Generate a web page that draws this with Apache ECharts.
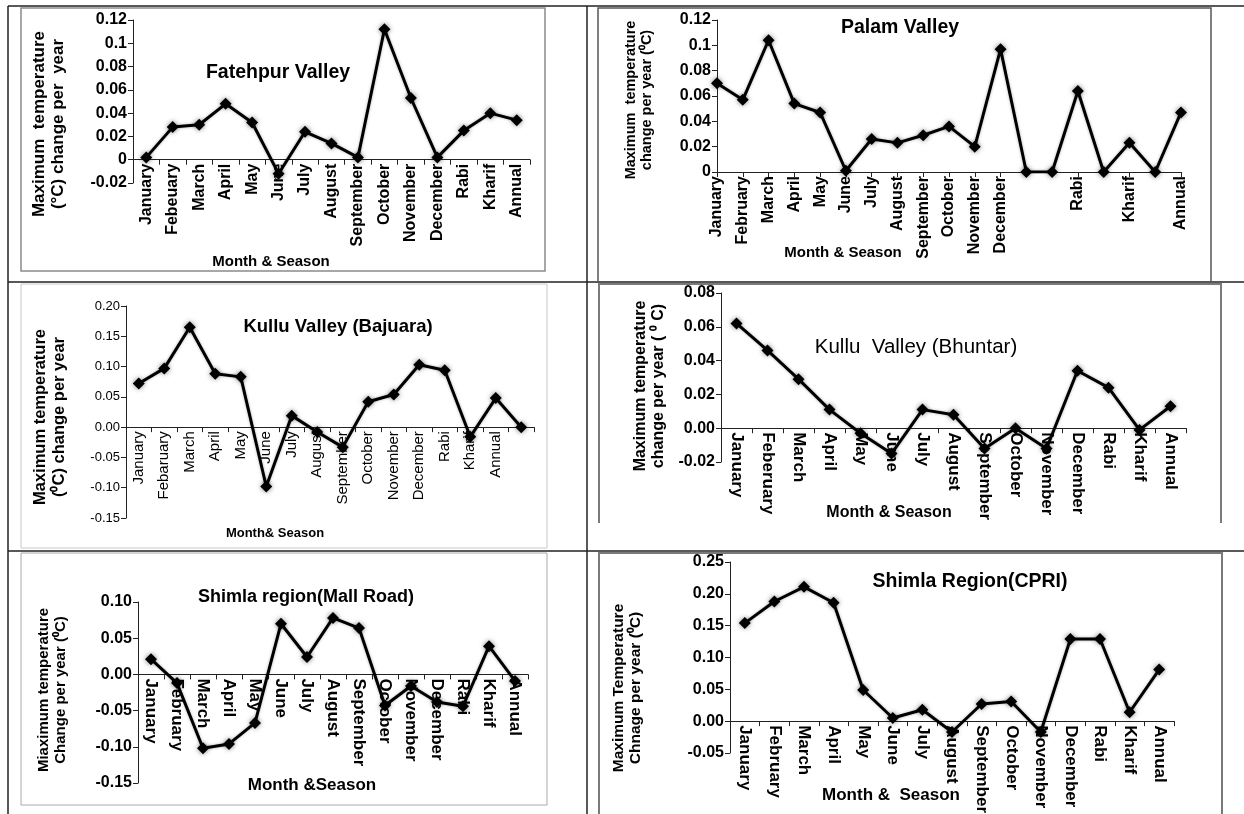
<!DOCTYPE html>
<html>
<head>
<meta charset="utf-8">
<script src="https://cdn.jsdelivr.net/npm/echarts@6/dist/echarts.min.js"></script>
<style>
  html, body { margin: 0; padding: 0; background: #fff; }
  #chart { width: 1244px; height: 814px; }
</style>
</head>
<body>
<div id="chart"></div>
<script>
// ---- data ----
const fatehpurCats = ['January', 'Febeuary', 'March', 'April', 'May', 'June', 'July', 'August', 'September', 'October', 'November', 'December', 'Rabi', 'Kharif', 'Annual'];
const fatehpurVals = [0.002, 0.028, 0.030, 0.048, 0.032, -0.012, 0.024, 0.014, 0.002, 0.112, 0.053, 0.002, 0.025, 0.040, 0.034];
const fatehpurTicks = [-0.02, 0.12, 0.02];

const palamCats = ['January', 'February', 'March', 'April', 'May', 'June', 'July', 'August', 'September', 'October', 'November', 'December', '', '', 'Rabi', '', 'Kharif', '', 'Annual'];
const palamVals = [0.070, 0.057, 0.104, 0.054, 0.047, 0.001, 0.026, 0.023, 0.029, 0.036, 0.020, 0.097, 0, 0, 0.064, 0, 0.023, 0, 0.047];
const palamTicks = [0, 0.12, 0.02];

const bajuaraCats = ['January', 'Febaruary', 'March', 'April', 'May', 'June', 'July', 'August', 'September', 'October', 'November', 'December', 'Rabi', 'Kharif', 'Annual', ''];
const bajuaraVals = [0.072, 0.097, 0.165, 0.088, 0.083, -0.098, 0.019, -0.008, -0.033, 0.042, 0.054, 0.103, 0.094, -0.016, 0.048, 0.000];
const bajuaraTicks = [-0.15, 0.20, 0.05];

const bhuntarCats = ['January', 'Feberuary', 'March', 'April', 'May', 'June', 'July', 'August', 'September', 'October', 'November', 'December', 'Rabi', 'Kharif', 'Annual'];
const bhuntarVals = [0.062, 0.046, 0.029, 0.011, -0.003, -0.015, 0.011, 0.008, -0.012, 0.000, -0.012, 0.034, 0.024, -0.001, 0.013];
const bhuntarTicks = [-0.02, 0.08, 0.02];

const mallCats = ['January', 'February', 'March', 'April', 'May', 'June', 'July', 'August', 'September', 'October', 'November', 'December', 'Rabi', 'Kharif', 'Annual'];
const mallVals = [0.021, -0.012, -0.102, -0.096, -0.067, 0.070, 0.024, 0.078, 0.064, -0.043, -0.016, -0.038, -0.044, 0.039, -0.009];
const mallTicks = [-0.15, 0.10, 0.05];

const cpriCats = ['January', 'February', 'March', 'April', 'May', 'June', 'July', 'August', 'September', 'October', 'November', 'December', 'Rabi', 'Kharif', 'Annual'];
const cpriVals = [0.154, 0.188, 0.211, 0.186, 0.049, 0.005, 0.018, -0.017, 0.027, 0.031, -0.017, 0.129, 0.129, 0.014, 0.081];
const cpriTicks = [-0.05, 0.25, 0.05];

// ---- layout ----
const FONT = '"Liberation Sans", Arial, sans-serif';
const NARROW = '"Liberation Sans Narrow", "Liberation Sans", Arial, sans-serif';

const panels = [
  {
    cats: fatehpurCats, vals: fatehpurVals, ticks: fatehpurTicks, decimals: null,
    grid: { left: 133, top: 20, width: 397, height: 163 }, gap: true, rotate: 90,
    xFont: [16, 'bold'], yFont: [16, 'bold'],
    title: ['Fatehpur Valley', 278, 73, 19.5, 'bold', FONT],
    yName: ['Maximum  temperature\n(°C) change per  year', 49, 124, 17],
    xName: ['Month & Season', 271, 262, 15]
  },
  {
    cats: palamCats, vals: palamVals, ticks: palamTicks, decimals: null,
    grid: { left: 717, top: 20, width: 464, height: 152 }, gap: false, rotate: 90,
    xFont: [16, 'bold'], yFont: [16, 'bold'],
    title: ['Palam Valley', 900, 28, 19.5, 'bold', FONT],
    yName: ['Maximum  temperature\nchange per year (⁰C)', 639, 100, 14.5],
    xName: ['Month & Season', 843, 253, 15]
  },
  {
    cats: bajuaraCats, vals: bajuaraVals, ticks: bajuaraTicks, decimals: 2,
    grid: { left: 126, top: 306, width: 408, height: 212 }, gap: true, rotate: 90,
    xFont: [15, 'normal'], yFont: [13, 'normal'],
    title: ['Kullu Valley (Bajuara)', 338, 327, 18.5, 'bold', FONT],
    yName: ['Maximum temperature\n(⁰C) change per year', 50, 417, 16.5],
    xName: ['Month& Season', 275, 533, 13]
  },
  {
    cats: bhuntarCats, vals: bhuntarVals, ticks: bhuntarTicks, decimals: 2,
    grid: { left: 721, top: 293, width: 465, height: 169 }, gap: true, rotate: -90,
    xFont: [17, 'bold'], yFont: [16, 'bold'],
    title: ['Kullu  Valley (Bhuntar)', 916, 347, 20.5, 'normal', NARROW],
    yName: ['Maximum temperature\nchange per year ( ⁰ C)', 650, 386, 16],
    xName: ['Month & Season', 889, 513, 16]
  },
  {
    cats: mallCats, vals: mallVals, ticks: mallTicks, decimals: 2,
    grid: { left: 138, top: 602, width: 390, height: 181 }, gap: true, rotate: -90,
    xFont: [17, 'bold'], yFont: [16, 'bold'],
    title: ['Shimla region(Mall Road)', 306, 597, 18, 'bold', FONT],
    yName: ['Miaximum temperature\nChange per year (⁰C)', 52, 690, 15],
    xName: ['Month &Season', 312, 785, 17]
  },
  {
    cats: cpriCats, vals: cpriVals, ticks: cpriTicks, decimals: 2,
    grid: { left: 730, top: 562, width: 444, height: 191 }, gap: true, rotate: -90,
    xFont: [17, 'bold'], yFont: [16, 'bold'],
    title: ['Shimla Region(CPRI)', 970, 582, 19.5, 'bold', FONT],
    yName: ['Maximum Temperature\nChnage per year (⁰C)', 627, 688, 15.5],
    xName: ['Month &  Season', 891, 795, 17]
  }
];

// table rules and chart frames
const frames = [
  { type: 'rect', shape: { x: 21, y: 8, width: 524, height: 263 }, style: { fill: 'none', stroke: '#8a8a8a', lineWidth: 1.5 } },
  { type: 'rect', shape: { x: 598, y: 8, width: 613, height: 274 }, style: { fill: 'none', stroke: '#555', lineWidth: 1.5 } },
  { type: 'rect', shape: { x: 21, y: 284, width: 526, height: 264 }, style: { fill: 'none', stroke: '#c8c8c8', lineWidth: 1 } },
  { type: 'polyline', shape: { points: [[599, 523], [599, 284], [1221, 284], [1221, 523]] }, style: { fill: 'none', stroke: '#7a7a7a', lineWidth: 2 } },
  { type: 'rect', shape: { x: 21, y: 553, width: 526, height: 252 }, style: { fill: 'none', stroke: '#aaa', lineWidth: 1 } },
  { type: 'polyline', shape: { points: [[599, 814], [599, 553], [1222, 553], [1222, 814]] }, style: { fill: 'none', stroke: '#7a7a7a', lineWidth: 2 } }
];
const rules = [
  [8, 6, 1244, 6], [8, 6, 8, 814], [587, 6, 587, 814],
  [8, 282, 1244, 282], [8, 551, 1244, 551]
].map(([x1, y1, x2, y2]) => ({
  type: 'line', shape: { x1, y1, x2, y2 }, style: { stroke: '#222', lineWidth: 1.5 }
}));

const texts = [];
panels.forEach(p => {
  texts.push({
    type: 'text', x: p.title[1], y: p.title[2], z: 10,
    style: { text: p.title[0], fontSize: p.title[3], fontWeight: p.title[4], fontFamily: p.title[5], fill: '#000', align: 'center', verticalAlign: 'middle' }
  });
  texts.push({
    type: 'text', x: p.yName[1], y: p.yName[2], rotation: Math.PI / 2, z: 10,
    style: { text: p.yName[0], fontSize: p.yName[3], fontWeight: 'bold', fontFamily: FONT, lineHeight: p.yName[3] + 2, fill: '#000', align: 'center', verticalAlign: 'middle' }
  });
  texts.push({
    type: 'text', x: p.xName[1], y: p.xName[2], z: 10,
    style: { text: p.xName[0], fontSize: p.xName[3], fontWeight: 'bold', fontFamily: FONT, fill: '#000', align: 'center', verticalAlign: 'middle' }
  });
});

// pixel distance from the grid bottom up to the zero line, so the category axis sits on y = 0
const zeroOffset = p => -p.grid.height * (0 - p.ticks[0]) / (p.ticks[1] - p.ticks[0]);

const option = {
  animation: false,
  grid: panels.map(p => Object.assign({ containLabel: false, outerBoundsMode: 'none' }, p.grid)),
  xAxis: panels.map((p, i) => ({
    gridIndex: i,
    type: 'category',
    data: p.cats,
    boundaryGap: p.gap,
    position: 'bottom',
    offset: zeroOffset(p),
    axisLine: { onZero: false, lineStyle: { color: '#222', width: 1 } },
    axisTick: { show: true, length: 5, alignWithLabel: !p.gap, lineStyle: { color: '#222' } },
    axisLabel: {
      interval: 0, rotate: p.rotate, margin: 4,
      fontSize: p.xFont[0], fontWeight: p.xFont[1], fontFamily: FONT, color: '#000'
    },
    splitLine: { show: false }
  })),
  yAxis: panels.map((p, i) => ({
    gridIndex: i,
    type: 'value',
    min: p.ticks[0], max: p.ticks[1], interval: p.ticks[2],
    axisLine: { show: true, lineStyle: { color: '#222', width: 1 } },
    axisTick: { show: true, length: 5, lineStyle: { color: '#222' } },
    splitLine: { show: false },
    axisLabel: {
      margin: 6, fontSize: p.yFont[0], fontWeight: p.yFont[1], fontFamily: FONT, color: '#000',
      formatter: v => p.decimals ? v.toFixed(p.decimals) : String(+v.toFixed(4))
    }
  })),
  series: panels.map((p, i) => ({
    type: 'line',
    xAxisIndex: i,
    yAxisIndex: i,
    data: p.vals,
    symbol: 'diamond',
    symbolSize: 12,
    lineStyle: { color: '#000', width: 3, shadowBlur: 3, shadowColor: 'rgba(0,0,0,0.3)' },
    itemStyle: { color: '#000', shadowBlur: 5, shadowColor: 'rgba(0,0,0,0.5)' },
    z: 5
  })),
  graphic: { elements: [...rules, ...frames, ...texts] }
};

const myChart = echarts.init(document.getElementById('chart'), null, { renderer: 'canvas' });
myChart.setOption(option);
</script>
</body>
</html>
